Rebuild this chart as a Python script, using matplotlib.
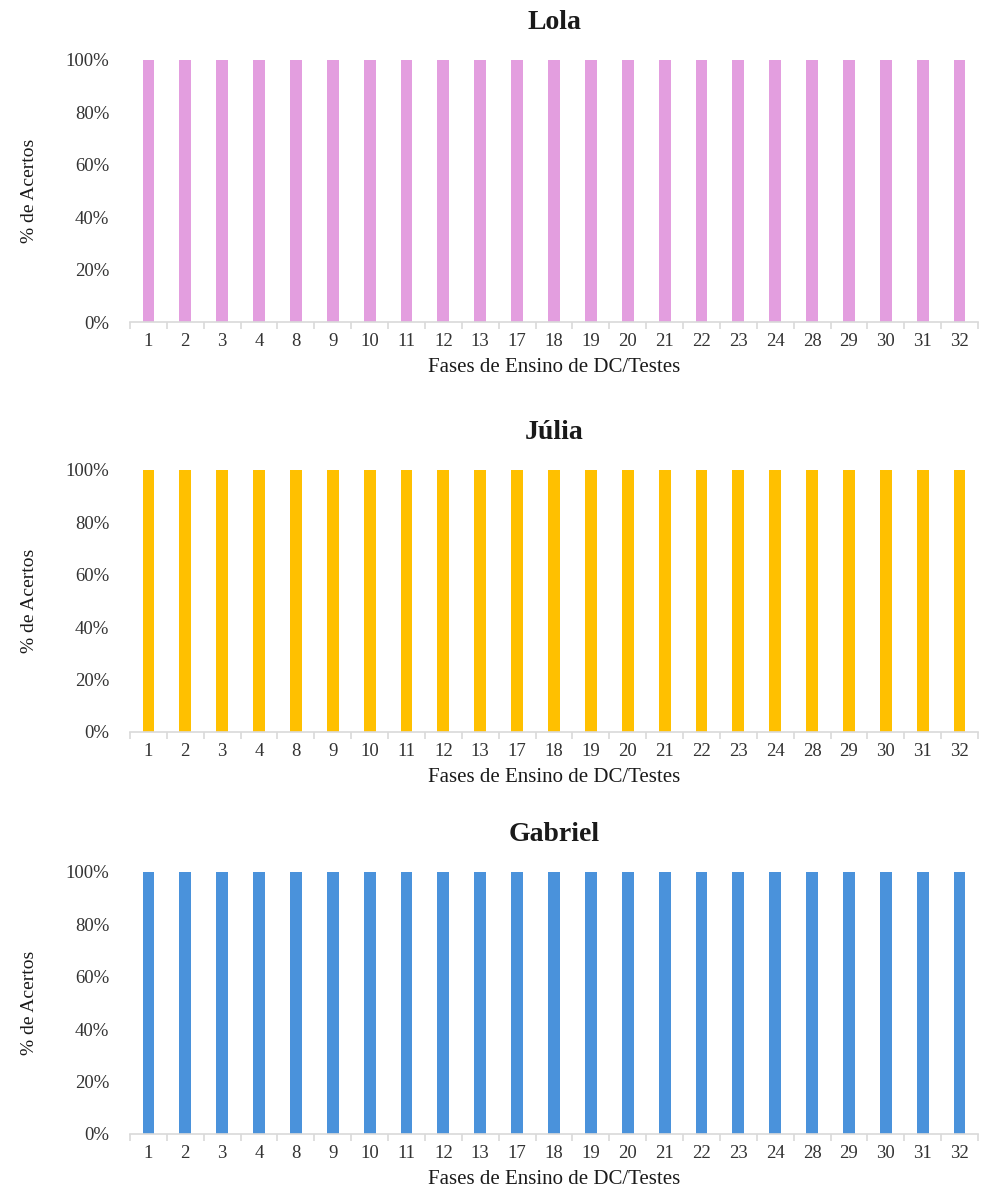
import numpy as np
import matplotlib
matplotlib.use("Agg")
import matplotlib.pyplot as plt
from matplotlib.ticker import PercentFormatter, FixedLocator

plt.rcParams["font.family"] = ["Liberation Serif", "DejaVu Serif"]

fases = ["1", "2", "3", "4", "8", "9", "10", "11", "12", "13", "17", "18",
         "19", "20", "21", "22", "23", "24", "28", "29", "30", "31", "32"]

lola = [100] * len(fases)
julia = [100] * len(fases)
gabriel = [100] * len(fases)

participantes = ["Lola", "Júlia", "Gabriel"]
acertos = [lola, julia, gabriel]
cores = ["#E39EDF", "#FFC000", "#4A92DB"]

fig = plt.figure(figsize=(9.81, 11.92), dpi=100)

# axes positions in pixels (top / bottom of plot area)
tops = [60, 470, 872]
bottoms = [322, 732, 1134]
H = 1192.0
left = 130 / 981.0
width = 848 / 981.0

x = np.arange(len(fases))
for nome, vals, cor, top, bot in zip(participantes, acertos, cores, tops, bottoms):
    ax = fig.add_axes([left, 1 - bot / H, width, (bot - top) / H])
    ax.bar(x, vals, width=0.32, color=cor, zorder=2)
    ax.set_xlim(-0.5, len(fases) - 0.5)
    ax.set_ylim(0, 100)
    ax.set_yticks([0, 20, 40, 60, 80, 100])
    ax.yaxis.set_major_formatter(PercentFormatter(decimals=0))
    ax.set_xticks(x)
    ax.set_xticklabels(fases)
    ax.xaxis.set_minor_locator(FixedLocator(np.arange(-0.5, len(fases), 1.0)))
    for s in ["top", "right", "left"]:
        ax.spines[s].set_visible(False)
    ax.spines["bottom"].set_color("#D9D9D9")
    ax.spines["bottom"].set_linewidth(1.2)
    ax.tick_params(axis="x", which="major", length=0, pad=8, labelsize=13.5,
                   colors="#333333")
    ax.tick_params(axis="x", which="minor", length=5, color="#D9D9D9", width=1.2)
    ax.tick_params(axis="y", length=0, pad=15, labelsize=13.5, labelcolor="#333333")
    ax.set_title(nome, fontsize=20, fontweight="bold", color="#1a1a1a", pad=22)
    ax.set_xlabel("Fases de Ensino de DC/Testes", fontsize=15, color="#1a1a1a",
                  labelpad=6)
    ax.set_ylabel("% de Acertos", fontsize=14, color="#1a1a1a", labelpad=20)

fig.savefig("out.png", dpi=100)
